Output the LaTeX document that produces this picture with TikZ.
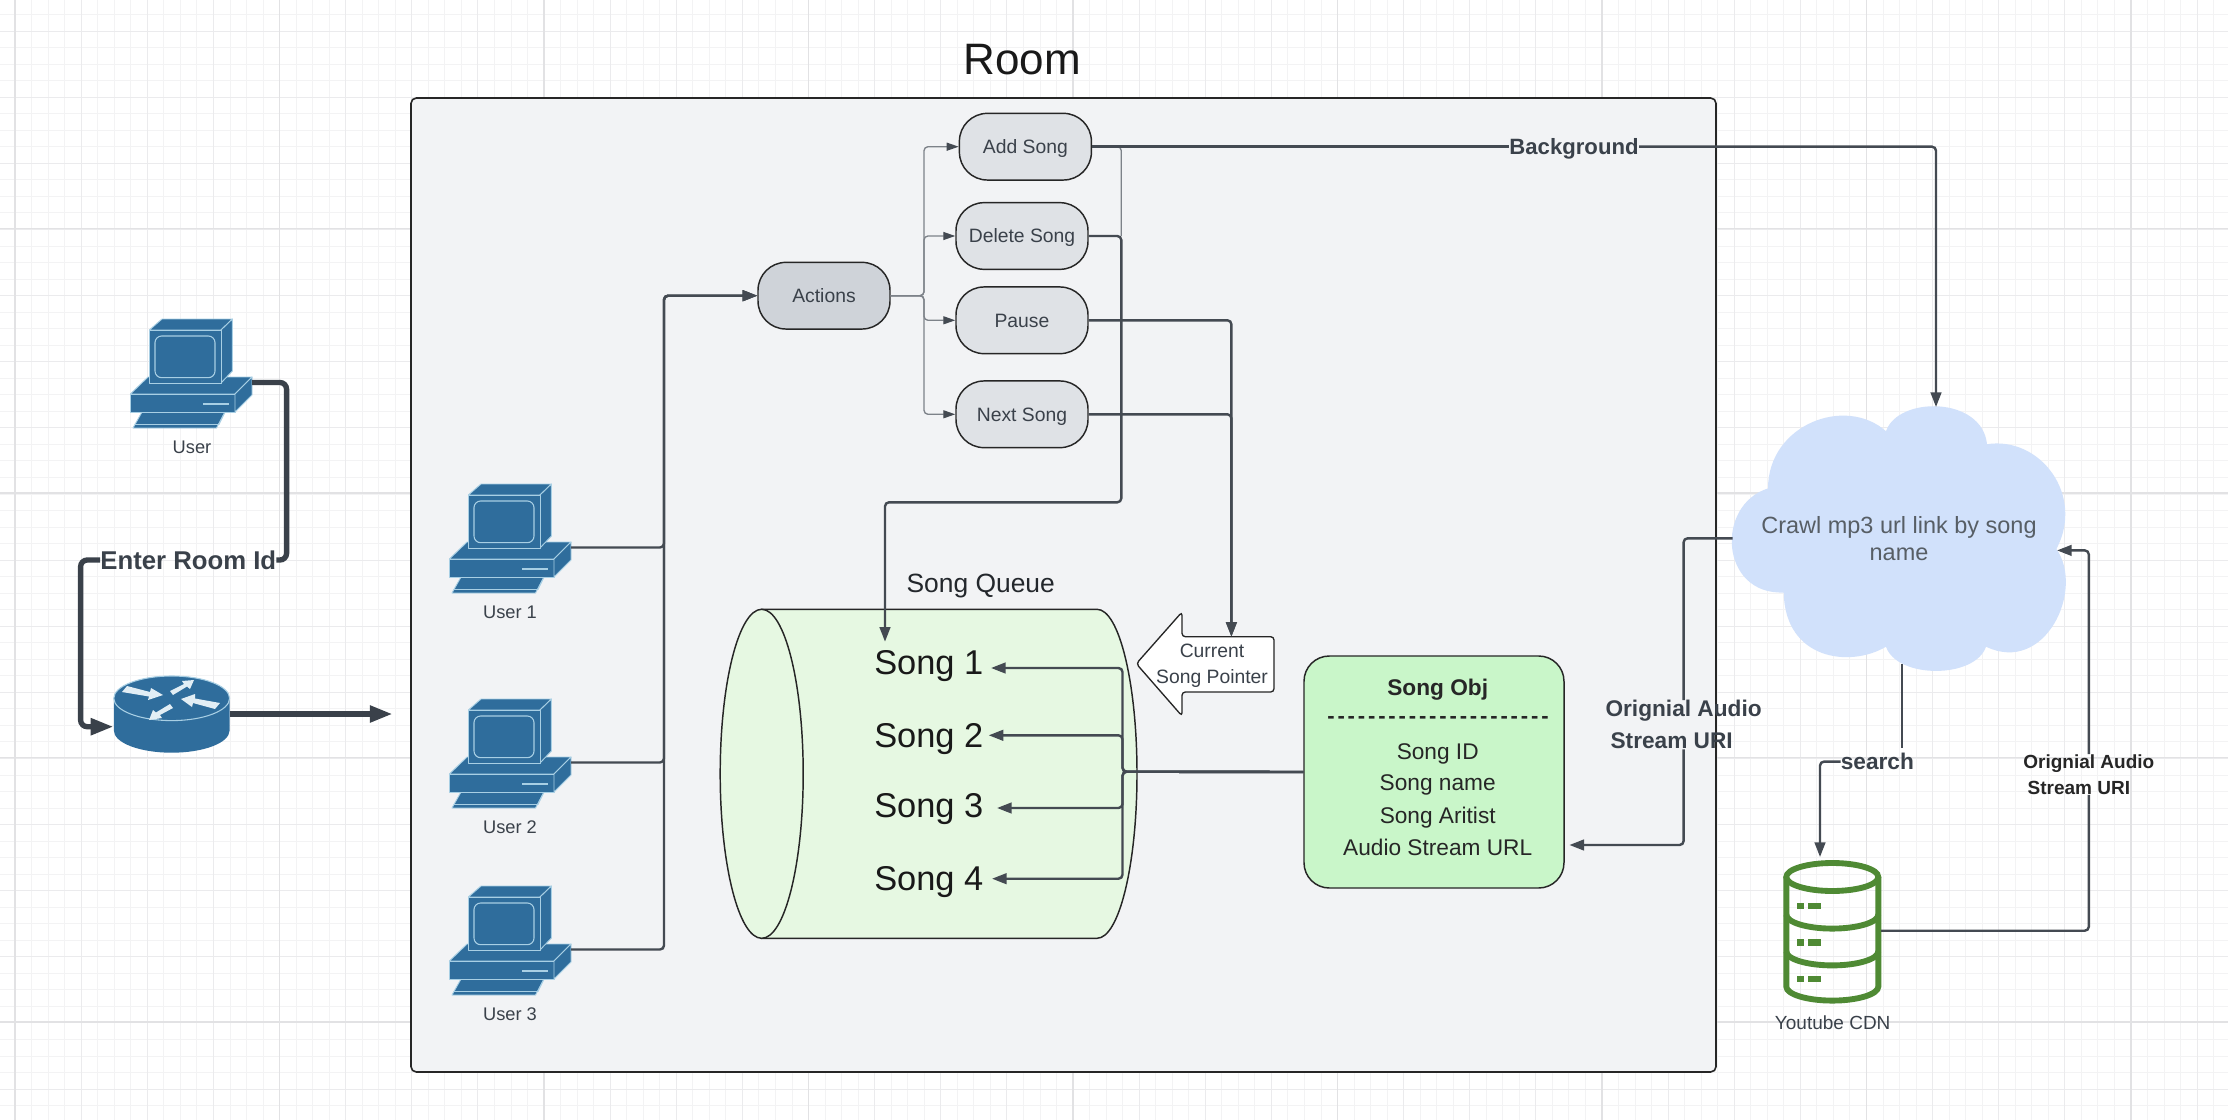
\documentclass[tikz,border=0pt]{standalone}
\usepackage{fontspec}
\setmainfont{Liberation Sans}
\newfontfamily\dashfont{Liberation Sans}[LetterSpace=13]
\usetikzlibrary{arrows.meta}

\definecolor{inkdark}{RGB}{58,65,74}
\definecolor{inkline}{RGB}{68,74,82}
\definecolor{inkthin}{RGB}{125,130,137}
\definecolor{pcblue}{RGB}{47,109,156}
\definecolor{pcedge}{RGB}{168,207,228}
\definecolor{roomgrey}{RGB}{242,243,245}
\definecolor{pillgrey}{RGB}{223,226,230}
\definecolor{actiongrey}{RGB}{207,211,217}
\definecolor{queuegreen}{RGB}{230,248,226}
\definecolor{objgreen}{RGB}{201,246,201}
\definecolor{cloudblue}{RGB}{209,225,251}
\definecolor{dbgreen}{RGB}{79,138,52}

\tikzset{
  gridminor/.style={draw={rgb,255:red,243;green,243;blue,244},line width=0.6pt},
  gridmedium/.style={draw={rgb,255:red,235;green,235;blue,237},line width=0.7pt},
  gridmajor/.style={draw={rgb,255:red,226;green,226;blue,228},line width=1pt},
  pcpart/.style={fill=pcblue,draw=pcedge,line width=0.7pt,line join=round},
  pclabel/.style={text=inkdark,inner sep=0pt,font=\fontsize{13.7}{16}\selectfont},
  pill/.style={draw=black!85,line width=1.1pt,rounded corners=21pt,minimum width=99pt,minimum height=50pt,inner sep=0pt,text height=10.4pt,text depth=0pt,text=inkdark,font=\fontsize{14.5}{17}\selectfont},
  flow/.style={draw=inkline,line width=1.8pt,rounded corners=3pt,-{Triangle[length=11pt,width=8pt]}},
  flowplain/.style={draw=inkline,line width=1.8pt,rounded corners=3pt},
  flowthin/.style={draw=inkthin,line width=1pt,rounded corners=3pt,-{Triangle[length=9pt,width=6pt,color=inkline]}},
  flowheavy/.style={draw=inkdark,line width=4pt,rounded corners=5pt},
  songtext/.style={anchor=west,inner sep=0pt,text=black!90,font=\fontsize{25.8}{28}\selectfont},
  objtext/.style={inner sep=0pt,text=black!85,font=\fontsize{17}{24}\selectfont},
  linklabel/.style={inner sep=0pt,text=inkdark,font=\bfseries\fontsize{17}{24}\selectfont},
  routerarrow/.style={fill={rgb,255:red,226;green,238;blue,245}},
  pc/.pic={
    %keyboard
    \path[pcpart] (12,93) -- (95,93) -- (86.5,109) -- (3,109) -- cycle;
    \draw[pcedge,line width=0.7pt] (5,105.5) -- (89,105.5) -- (95,93);
    %base
    \path[pcpart] (0.4,75) -- (18,58) -- (122,58) -- (105,75) -- cycle;
    \path[pcpart] (0.4,75) rectangle (105,93);
    \path[pcpart] (105,75) -- (122,58) -- (122,76) -- (105,93) -- cycle;
    \draw[pcedge,line width=1.2pt] (73,85) -- (99,85);
    %monitor
    \path[pcpart] (19.4,11) -- (32,0) -- (102.4,0) -- (91,11) -- cycle;
    \path[pcpart] (91,11) -- (102.4,0) -- (102.4,52) -- (91,64) -- cycle;
    \path[pcpart] (19.4,11) rectangle (91,64);
    \draw[pcedge,line width=0.8pt,rounded corners=5pt] (25,17) rectangle (85,58.7);
    \coordinate (-port) at (122,63.5);
  }
}

\begin{document}
\begin{tikzpicture}[x=0.75pt,y=0.75pt,yscale=-1,xscale=1]
\useasboundingbox (0,0) rectangle (2228,1120);
\fill[white] (0,0) rectangle (2228,1120);

%Grid
\foreach \k in {0,...,135} \draw[gridminor] ({-1.5+16.53*\k},0) -- ({-1.5+16.53*\k},1120);
\foreach \k in {0,...,68} \draw[gridminor] (0,{-2+16.53*\k}) -- (2228,{-2+16.53*\k});
\foreach \k in {0,...,33} \draw[gridmedium] ({15+66.125*\k},0) -- ({15+66.125*\k},1120);
\foreach \k in {0,...,17} \draw[gridmedium] (0,{31+66.125*\k}) -- (2228,{31+66.125*\k});
\foreach \k in {0,...,8} \draw[gridmajor] ({15+264.5*\k},0) -- ({15+264.5*\k},1120);
\foreach \k in {0,...,3} \draw[gridmajor] (0,{228.5+264.5*\k}) -- (2228,{228.5+264.5*\k});

%Room
\draw[fill=roomgrey,draw=black!85,line width=1.2pt,rounded corners=4pt] (411,98) rectangle (1716,1072);
\node[inner sep=0pt,text=black!90,font=\fontsize{33}{38}\selectfont] (roomtitle) at (1022,60) {Room};

%Computers
\pic[transform shape] (user) at (130,319) {pc};
\node[pclabel] (userlabel) at (192,447) {User};
\pic[transform shape] (user1) at (449,484) {pc};
\node[pclabel] (user1label) at (510,612) {User 1};
\pic[transform shape] (user2) at (449,699) {pc};
\node[pclabel] (user2label) at (510,827) {User 2};
\pic[transform shape] (user3) at (449,886) {pc};
\node[pclabel] (user3label) at (510,1014) {User 3};

%Router
\fill[pcblue] (113.8,698.3) -- (113.8,730.4) .. controls (113.8,743) and (140,752.7) .. (171.7,752.7) .. controls (203.4,752.7) and (229.6,743) .. (229.6,730.4) -- (229.6,698.3) -- cycle;
\draw[fill=pcblue,draw=pcedge,line width=0.8pt] (171.7,698.3) ellipse [x radius=57.9,y radius=22.3];
\fill[routerarrow] (122,692) -- (127,686) -- (150,692) -- (151,688) -- (163,695) -- (148,700) -- (149,696.5) -- cycle;
\fill[routerarrow] (173,695) -- (170,691) -- (184,684) -- (182,681) -- (194,680) -- (190,689) -- (187,686.5) -- cycle;
\fill[routerarrow] (220,703) -- (215,709) -- (193,703) -- (192,707) -- (181,699) -- (195,694) -- (195,698.5) -- cycle;
\fill[routerarrow] (170,704) -- (173,708) -- (160,715) -- (162,718) -- (149,720) -- (153,710) -- (156,712.5) -- cycle;
\coordinate (routerin) at (113.4,726.7);
\coordinate (routerout) at (229.6,714);
\coordinate (roomgate) at (392.5,714);

%Enter Room Id
\node[linklabel,font=\bfseries\fontsize{19.3}{24}\selectfont] (enterroom) at (188.3,560) {Enter Room Id};
\coordinate (userdrop) at (286.6,560);
\coordinate (routerdrop) at (80.6,726.7);
\draw[flowheavy] (user-port) -| (userdrop) -- (enterroom.east);
\draw[flowheavy,-{Triangle[length=17pt,width=12pt]}] (enterroom.west) -| (routerdrop) -- (routerin);
\draw[flowheavy,-{Triangle[length=17pt,width=12pt]}] (routerout) -- (roomgate);

%Actions
\node[pill,fill=actiongrey] (actions) at (824,295.7) {Actions};
\node[pill,fill=pillgrey] (addsong) at (1025.4,146.7) {Add Song};
\node[pill,fill=pillgrey] (deletesong) at (1022,236) {Delete Song};
\node[pill,fill=pillgrey] (pause) at (1022,320.3) {Pause};
\node[pill,fill=pillgrey] (nextsong) at (1022,414.3) {Next Song};

\coordinate (trunk) at (664,295.7);
\draw[flow] (user1-port) -| (trunk) -- (actions.west);
\draw[flow] (user2-port) -| (trunk) -- (actions.west);
\draw[flow] (user3-port) -| (trunk) -- (actions.west);

\coordinate (fork) at (924,295.7);
\draw[flowthin] (actions.east) -- (fork) |- (addsong.west);
\draw[flowthin] (actions.east) -- (fork) |- (deletesong.west);
\draw[flowthin] (actions.east) -- (fork) |- (pause.west);
\draw[flowthin] (actions.east) -- (fork) |- (nextsong.west);

%Song Queue
\draw[fill=queuegreen,draw=black!85,line width=1.1pt] (761.7,609.3) -- (1097,609.3) arc [start angle=-90,end angle=90,x radius=40,y radius=164.5] -- (761.7,938.3) -- cycle;
\draw[fill=queuegreen,draw=black!85,line width=1.1pt] (761.7,773.8) ellipse [x radius=41.5,y radius=164.5];
\node[inner sep=0pt,text=inkdark!60!black,font=\fontsize{19.8}{23}\selectfont] (queuelabel) at (980.7,586) {Song Queue};
\node[songtext] (song1) at (874,666.5) {Song 1};
\node[songtext] (song2) at (874,739.5) {Song 2};
\node[songtext] (song3) at (874,809.5) {Song 3};
\node[songtext] (song4) at (874,882.5) {Song 4};

%Current Song Pointer
\draw[fill=white,draw=black!85,line width=1pt,rounded corners=2.5pt] (1136.3,663.7) -- (1182,612) -- (1182,636.7) -- (1274,636.7) -- (1274,692) -- (1182,692) -- (1182,716) -- cycle;
\node[inner sep=0pt,align=center,text=inkdark,font=\fontsize{14.5}{19.8}\selectfont] (pointer) at (1212,666) {Current\\Song Pointer};
\coordinate (pointertop) at (1231.4,636.7);

%Song Obj
\node[draw=black!85,fill=objgreen,line width=1.1pt,rounded corners=19pt,minimum width=195pt,minimum height=174pt] (songobj) at (1434,772) {};
\node[objtext,font=\bfseries\fontsize{17}{24}\selectfont] (objtitle) at (1437.7,689.2) {Song Obj};
\node[objtext,font=\bfseries\dashfont\fontsize{16.5}{24}\selectfont] (objrule) at (1438,720) {----------------------};
\node[objtext] (objid) at (1437.7,753.5) {Song ID};
\node[objtext] (objname) at (1437.7,785.2) {Song name};
\node[objtext] (objartist) at (1437.7,817.5) {Song Aritist};
\node[objtext] (objurl) at (1437.7,847) {Audio Stream URL};

%Song links
\coordinate (songfork) at (1122.5,771.7);
\coordinate (tip1) at (991,668);
\coordinate (tip2) at (988.7,735.3);
\coordinate (tip3) at (997,808);
\coordinate (tip4) at (992,878.7);
\draw[flow] (songobj.west) -- (songfork) |- (tip1);
\draw[flow] (songobj.west) -- (songfork) |- (tip2);
\draw[flow] (songobj.west) -- (songfork) |- (tip3);
\draw[flow] (songobj.west) -- (songfork) |- (tip4);

%Action links
\coordinate (deletejoin) at (1121.3,236);
\coordinate (queuedrop) at (1121.3,502.3);
\coordinate (queuein) at (885,641.7);
\draw[flowthin,-] (addsong.east) -| (deletejoin);
\draw[flow] (deletesong.east) -| (queuedrop) -| (queuein);
\draw[flow] (pause.east) -| (pointertop);
\draw[flow] (nextsong.east) -| (pointertop);

%Cloud
\fill[cloudblue] (1768,488.4) .. controls (1768,425) and (1845,395) .. (1886,431.2) .. controls (1898,396) and (1982,396) .. (1987,444.2) .. controls (2040,436) and (2085,495) .. (2056.4,549) .. controls (2085,590) and (2045,675) .. (1986,646.7) .. controls (1975,679) and (1897,679) .. (1886,646.7) .. controls (1850,668) and (1785,660) .. (1783.7,592.5) .. controls (1720,595) and (1715,505) .. (1768,488.4) -- cycle;
\node[inner sep=0pt,align=center,text=inkdark!85,font=\fontsize{17.6}{20.2}\selectfont] (cloudtext) at (1899,538.5) {Crawl mp3 url link by song\\name};
\coordinate (cloudtop) at (1936,407);
\coordinate (cloudleft) at (1732.6,538.3);
\coordinate (cloudbottom) at (1902,664);
\coordinate (cloudright) at (2057,550.4);

%Background
\node[linklabel,font=\bfseries\fontsize{16.6}{18}\selectfont] (background) at (1574,149) {Background};
\coordinate (backgroundin) at (1509,146.7);
\coordinate (backgroundout) at (1639,146.7);
\draw[flowplain] (addsong.east) -- (backgroundin);
\draw[flow] (backgroundout) -| (cloudtop);

%Audio link to Song Obj
\node[linklabel,align=left] (audiolabel) at (1683.6,724.7) {Orignial Audio\\\hspace{3.8pt}Stream URI};
\coordinate (audioout) at (1569.4,845);
\coordinate (audiobend) at (1683.6,845);
\draw[flowplain] (cloudleft) -| (audiolabel.north);
\draw[flow] (audiolabel.south) -- (audiobend) -- (audioout);

%Youtube CDN
\begin{scope}[draw=dbgreen,line width=4.4pt]
\draw (1832.3,877) ellipse [x radius=46,y radius=14];
\draw (1786.3,877) -- (1786.3,986.6) .. controls (1786.3,994.3) and (1807,1000.6) .. (1832.3,1000.6) .. controls (1857.6,1000.6) and (1878.3,994.3) .. (1878.3,986.6) -- (1878.3,877);
\draw (1786.3,914.6) .. controls (1786.3,922.3) and (1807,928.6) .. (1832.3,928.6) .. controls (1857.6,928.6) and (1878.3,922.3) .. (1878.3,914.6);
\draw (1786.3,951.4) .. controls (1786.3,959.1) and (1807,965.4) .. (1832.3,965.4) .. controls (1857.6,965.4) and (1878.3,959.1) .. (1878.3,951.4);
\end{scope}
\foreach \dy in {906,942.4,978.9} {
  \fill[dbgreen] (1796.5,\dy-3.2) rectangle (1804,\dy+3.2);
  \fill[dbgreen] (1808.4,\dy-3.2) rectangle (1821,\dy+3.2);
}
\node[pclabel,text=inkdark,font=\fontsize{14.25}{17}\selectfont] (cdnlabel) at (1832.7,1022.7) {Youtube CDN};
\coordinate (cdnright) at (1881,930.7);
\coordinate (cdntop) at (1820,857);

%search
\node[linklabel] (searchlabel) at (1877.4,761.6) {search};
\coordinate (searchin) at (1902,747.7);
\draw[flowplain] (cloudbottom) -- (searchin);
\draw[flow] (searchlabel.west) -| (cdntop);

%Audio link back to cloud
\node[linklabel,align=left,text=black!85,font=\bfseries\fontsize{14.25}{19.8}\selectfont] (cdnaudio) at (2088.8,774.5) {Orignial Audio\\\hspace{3.2pt}Stream URI};
\coordinate (cdnbend) at (2088.8,930.7);
\draw[flowplain] (cdnright) -- (cdnbend) -- (cdnaudio.south);
\draw[flow] (cdnaudio.north) |- (cloudright);

\end{tikzpicture}
\end{document}
